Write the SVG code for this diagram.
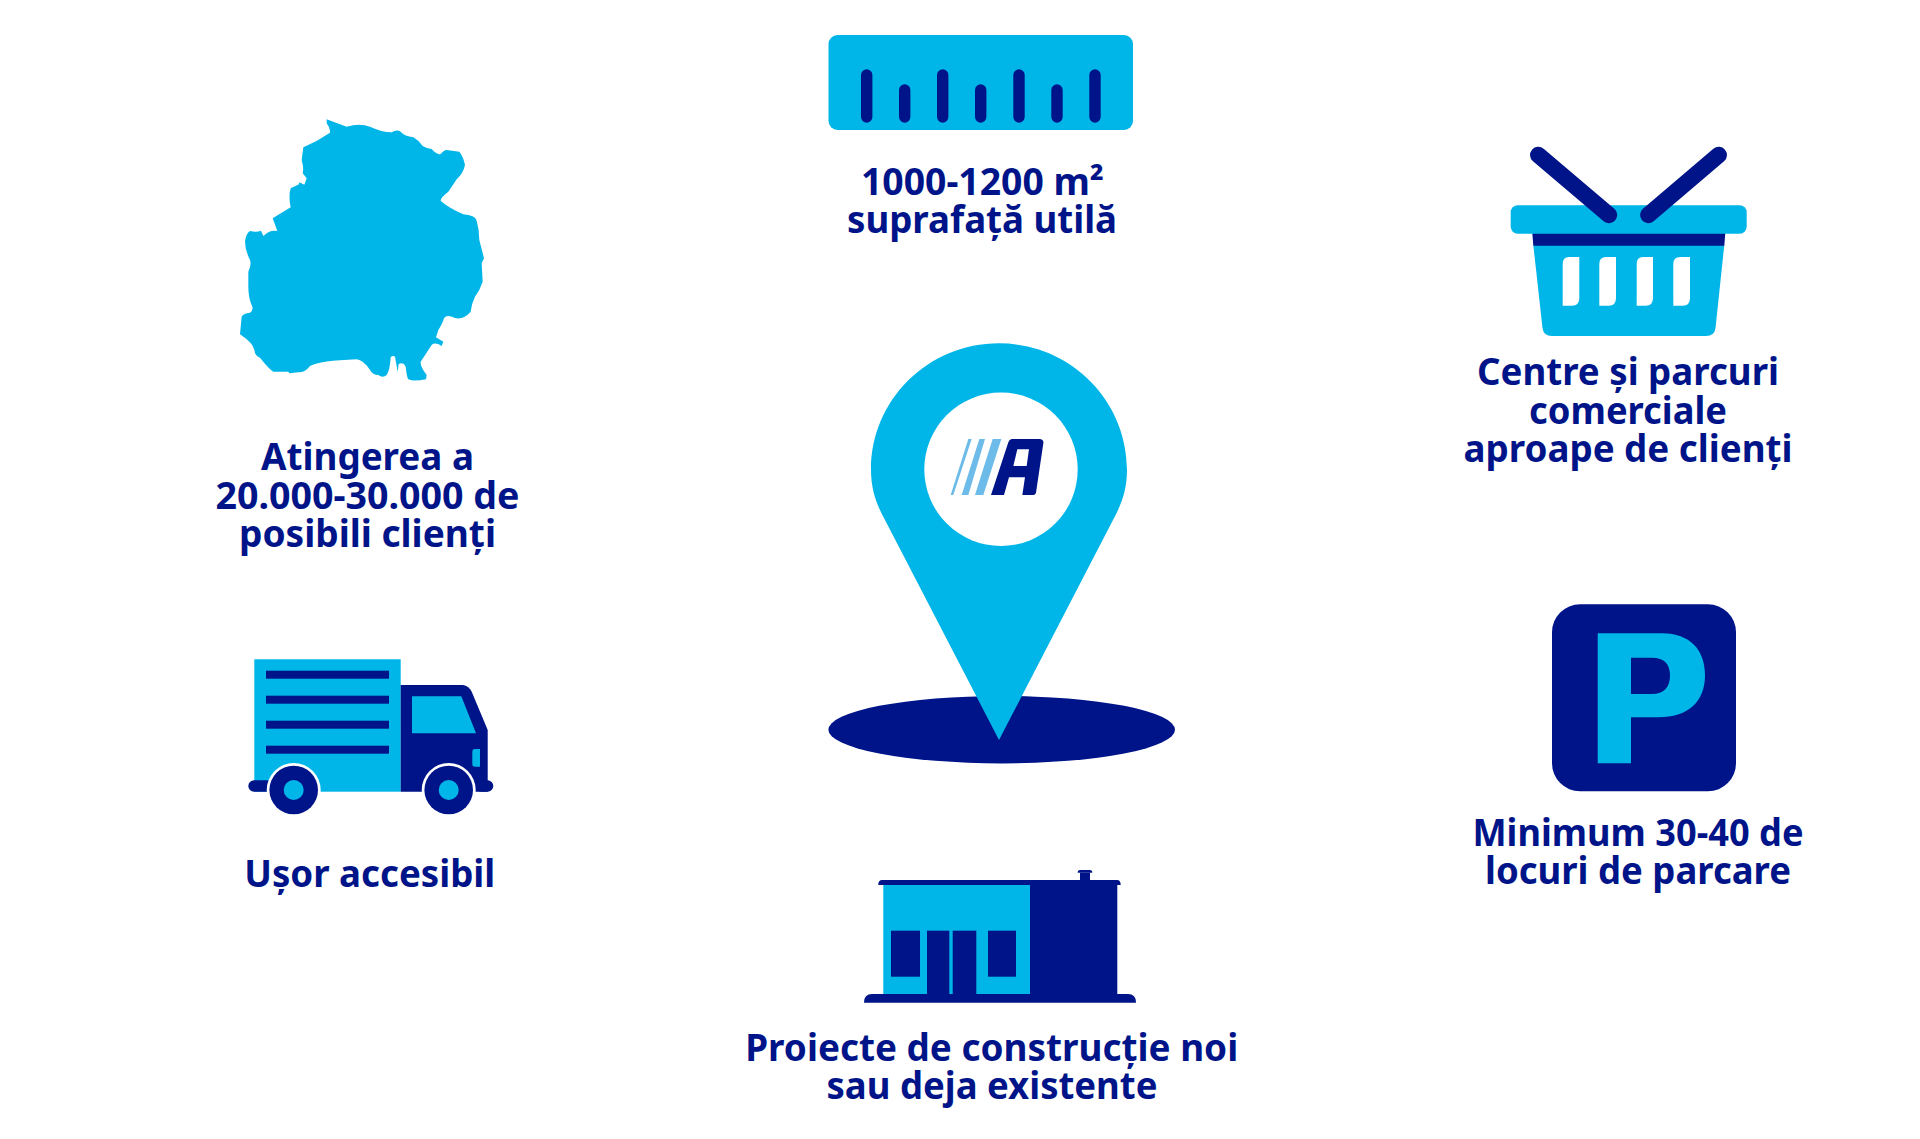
<svg xmlns="http://www.w3.org/2000/svg" width="1920" height="1139" viewBox="0 0 1920 1139">
<style>
.l{fill:#00b6e8}.d{fill:#001489}.w{fill:#fff}
text{font-family:"Noto Sans","Open Sans",sans-serif;font-weight:700;font-size:36.8px;fill:#001489;text-anchor:middle}
</style>
<rect width="1920" height="1139" fill="#fff"/>
<g id="map">
<path class="l" transform="translate(200,90) scale(.33333)" d="M380 88 L440 110 Q480 98 510 110 Q550 128 575 127 Q590 118 600 124 Q615 140 640 142 Q655 150 668 168 Q680 176 695 177 Q710 195 722 192 Q735 176 745 181 L778 185 Q790 200 795 225 Q790 250 770 268 L745 305 Q722 322 722 332 Q740 350 790 373 Q825 375 830 392 Q838 420 838 450 L852 505 L845 520 L848 575 Q840 600 825 620 Q815 640 812 665 Q790 690 765 684 Q740 672 732 685 Q728 700 715 720 L708 742 L730 755 L725 768 Q705 755 695 765 L662 815 Q660 830 680 855 L678 868 Q640 875 625 868 Q620 860 617 830 Q610 815 596 822 L593 845 L585 800 Q578 795 572 802 Q570 840 560 855 Q548 865 535 855 Q518 855 510 840 Q490 810 470 808 Q360 812 330 828 Q315 848 295 847 L268 850 L265 845 L220 845 Q205 835 180 803 Q165 798 163 780 Q160 760 120 733 L125 680 Q130 670 150 668 Q160 660 157 650 Q145 625 145 590 L145 545 Q155 525 150 510 Q135 480 135 455 Q138 430 150 423 Q170 428 183 422 L190 438 Q210 418 232 423 L218 385 L272 352 Q265 320 272 295 L297 283 L298 277 L313 284 L320 265 L308 250 Q312 235 305 210 L310 172 Q350 155 390 128 Q392 115 380 100 Z"/>
<text x="367.5" y="470.3" textLength="213" lengthAdjust="spacingAndGlyphs">Atingerea a</text>
<text x="367.5" y="508.7" textLength="304" lengthAdjust="spacingAndGlyphs">20.000-30.000 de</text>
<text x="367.5" y="547" textLength="257" lengthAdjust="spacingAndGlyphs">posibili clienți</text>
</g>
<g id="ruler">
<rect class="l" x="828.5" y="35" width="304.5" height="95" rx="9"/>
<g class="d">
<rect x="861" y="69.3" width="11.4" height="53.4" rx="5.7"/>
<rect x="899" y="84.3" width="11.4" height="38.4" rx="5.7"/>
<rect x="937" y="69.3" width="11.4" height="53.4" rx="5.7"/>
<rect x="975" y="84.3" width="11.4" height="38.4" rx="5.7"/>
<rect x="1013.3" y="69.3" width="11.4" height="53.4" rx="5.7"/>
<rect x="1051.3" y="84.3" width="11.4" height="38.4" rx="5.7"/>
<rect x="1089.3" y="69.3" width="11.4" height="53.4" rx="5.7"/>
</g>
<text x="982.5" y="195" textLength="243" lengthAdjust="spacingAndGlyphs">1000-1200 m²</text>
<text x="982" y="233" textLength="270" lengthAdjust="spacingAndGlyphs">suprafață utilă</text>
</g>
<g id="basket">
<path class="l" d="M1533.3 245 H1724.3 L1715.5 328 Q1714.5 336 1706 336 H1552 Q1543.5 336 1542.5 328 Z"/>
<path class="d" d="M1532.3 233 H1725.3 L1724.3 245.7 H1533.3 Z"/>
<rect class="l" x="1510.7" y="205.3" width="236" height="28.4" rx="7"/>
<g class="w">
<path d="M1562.7 264 Q1562.7 257 1569 257 H1579.3 V298 Q1579.3 305.7 1572 305.7 H1562.7Z"/>
<path d="M1599.3 264 Q1599.3 257 1606 257 H1616 V298 Q1616 305.7 1608.7 305.7 H1599.3Z"/>
<path d="M1636.7 264 Q1636.7 257 1643 257 H1653 V298 Q1653 305.7 1645.7 305.7 H1636.7Z"/>
<path d="M1673.3 264 Q1673.3 257 1680 257 H1690 V298 Q1690 305.7 1682.7 305.7 H1673.3Z"/>
</g>
<path d="M1538.3 155 L1609 215 M1718.7 155 L1648.3 215" stroke="#001489" stroke-width="16.5" stroke-linecap="round" fill="none"/>
<text x="1628" y="385.2" textLength="302" lengthAdjust="spacingAndGlyphs">Centre și parcuri</text>
<text x="1628" y="423.5" textLength="198" lengthAdjust="spacingAndGlyphs">comerciale</text>
<text x="1628" y="461.9" textLength="329" lengthAdjust="spacingAndGlyphs">aproape de clienți</text>
</g>
<g id="pin">
<ellipse class="d" cx="1001.7" cy="729.7" rx="173.3" ry="33.7"/>
<path class="l" d="M999 343.3 C928 343.3 871 400 871 470 C871 492 878 507 885 520 L999 740 L1113 520 C1120 507 1127 492 1127 470 C1127 400 1070 343.3 999 343.3Z"/>
<circle class="w" cx="1001" cy="469.3" r="76.7"/>
<g transform="translate(900,380) scale(.33333)">
<path fill="#6cbbe8" d="M205 177H215L160 345H152ZM238 177H255L205 345H185ZM278 177H304L250 345H225Z"/>
<path class="d" fill-rule="evenodd" d="M335 177H418Q432 178 430 190L408 338Q406 345 400 345H367L375 292H327L312 345H273L325 187Q328 178 335 177ZM352 208L340 258H380L387 208Z"/>
</g>
</g>
<g id="truck">
<rect class="l" x="254.3" y="659.3" width="146.4" height="132.4"/>
<g class="d">
<rect x="266" y="670.7" width="123" height="8"/>
<rect x="266" y="695.7" width="123" height="8"/>
<rect x="266" y="720.7" width="123" height="8"/>
<rect x="266" y="745.7" width="123" height="8"/>
<path d="M400.7 685 H463 Q469 686 471.7 691.7 L487.7 730 V791.7 H400.7Z"/>
<rect x="248.3" y="780.3" width="25" height="11.4" rx="5.7"/>
<rect x="475" y="780.3" width="18.3" height="11.4" rx="5.7"/>
</g>
<path class="l" d="M412 696.3 H461.3 L476 733.3 H412Z"/>
<path class="l" d="M475 749 H480 V766.7 H475 Q472.3 766.7 472.3 764 V752 Q472.3 749 475 749Z"/>
<circle class="w" cx="293.7" cy="790" r="27"/>
<circle class="d" cx="293.7" cy="790" r="24.3"/>
<circle class="l" cx="293.7" cy="790" r="10"/>
<circle class="w" cx="448.7" cy="790" r="27"/>
<circle class="d" cx="448.7" cy="790" r="24.3"/>
<circle class="l" cx="448.7" cy="790" r="10"/>
<text x="369.7" y="887" textLength="251" lengthAdjust="spacingAndGlyphs">Ușor accesibil</text>
</g>
<g id="parking">
<rect class="d" x="1552" y="604.3" width="184" height="187" rx="28"/>
<path class="l" fill-rule="evenodd" d="M1597.7 633.3 H1662 C1690 633.3 1705 650 1705 675 C1705 702 1688 717.3 1658 717.3 H1631 V763.3 H1597.7Z M1631 657.7 V694 H1652 C1664 694 1670 687 1670 675.5 C1670 664 1664 657.7 1652 657.7Z"/>
<text x="1638" y="846" textLength="331" lengthAdjust="spacingAndGlyphs">Minimum 30-40 de</text>
<text x="1638" y="884.3" textLength="306" lengthAdjust="spacingAndGlyphs">locuri de parcare</text>
</g>
<g id="building">
<rect class="l" x="883.3" y="885" width="146.7" height="109"/>
<rect class="d" x="1030" y="885" width="87.3" height="109"/>
<path class="d" d="M878.3 885 Q878.3 880 882 880 H1117 Q1120.7 880 1120.7 885Z"/>
<path class="d" d="M864 1002.7 Q864 994 872 994 H1128 Q1136 994 1136 1002.7Z"/>
<rect class="d" x="1080" y="872.7" width="10" height="7.3"/>
<path class="d" d="M1077.7 872.7 Q1077.7 870 1080 870 H1090 Q1092.3 870 1092.3 872.7Z"/>
<rect class="d" x="891" y="930.7" width="29" height="46"/>
<rect class="d" x="927" y="930.7" width="22.3" height="63.6"/>
<rect class="d" x="952.7" y="930.7" width="23.6" height="63.6"/>
<rect class="d" x="988" y="930.7" width="28" height="46"/>
<text x="991.7" y="1061" textLength="493" lengthAdjust="spacingAndGlyphs">Proiecte de construcție noi</text>
<text x="992" y="1099.3" textLength="331" lengthAdjust="spacingAndGlyphs">sau deja existente</text>
</g>
</svg>
